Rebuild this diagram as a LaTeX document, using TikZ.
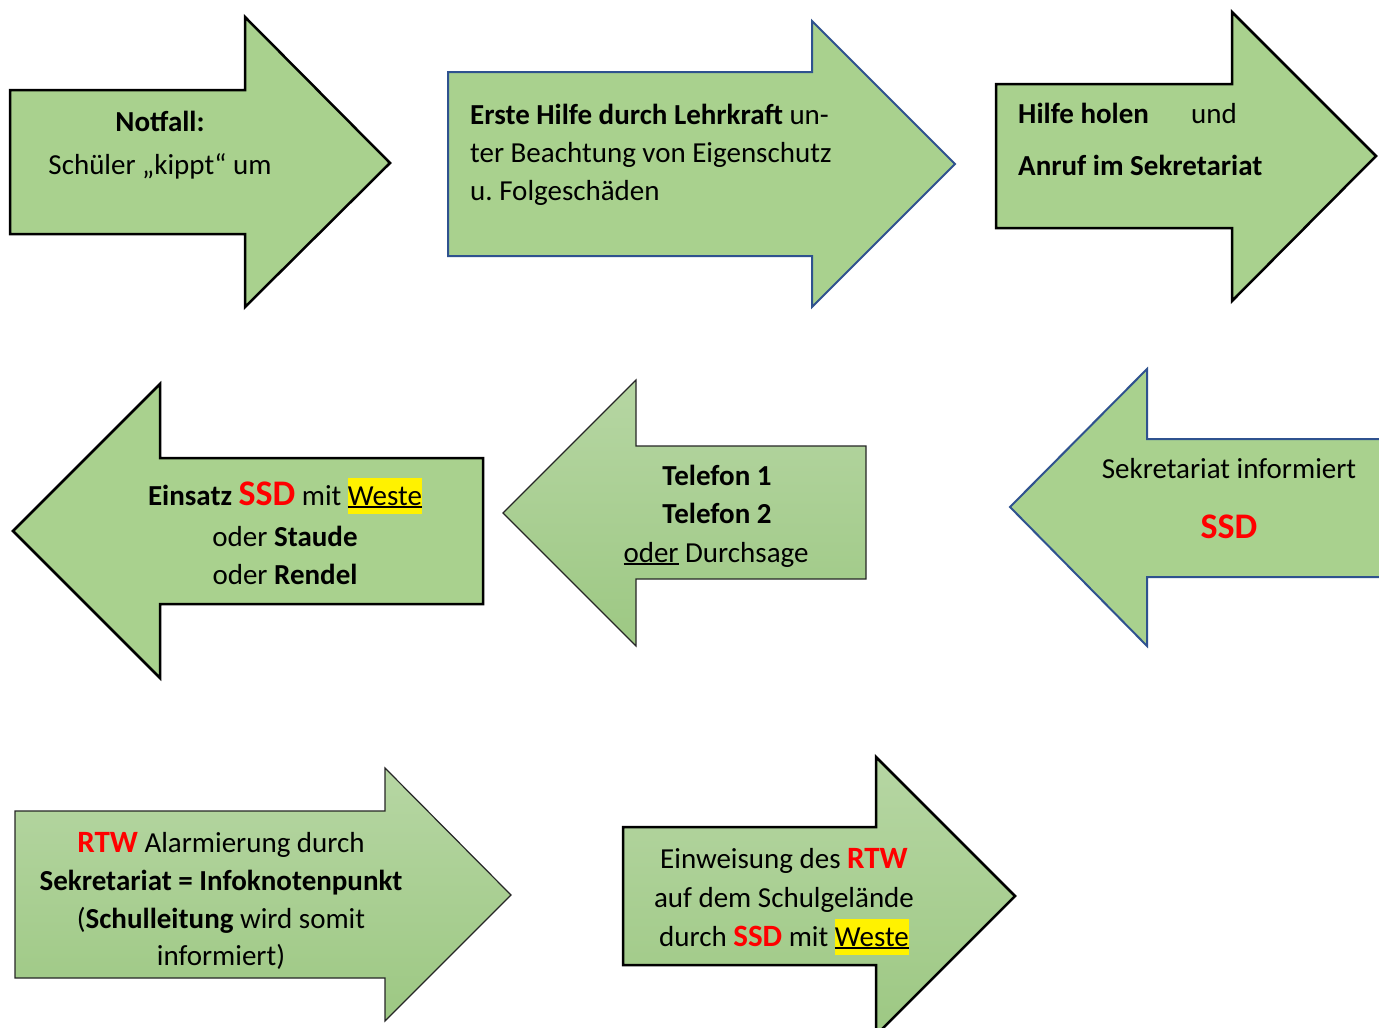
\documentclass[tikz,border=0pt]{standalone}
\usepackage{fontspec}
\setmainfont{Carlito}
\definecolor{agreen}{HTML}{A9D18E}
\definecolor{ablue}{HTML}{2F528F}
\definecolor{gtop}{RGB}{182,214,163}
\definecolor{gbot}{RGB}{157,200,131}
\definecolor{ared}{HTML}{FF0000}
\newcommand\myul[1]{\setbox0=\hbox{#1}\rlap{\rule[-0.11em]{\wd0}{0.07em}}\box0\relax}
\newcommand\myhl[1]{{\setlength{\fboxsep}{0pt}\colorbox{yellow}{\rule[-0.3em]{0pt}{1.22em}\myul{#1}}}}
\newcommand\redbig[1]{{\color{ared}\bfseries\fontsize{36}{36}\selectfont #1}}
\newcommand\redmid[1]{{\color{ared}\bfseries\fontsize{31}{31}\selectfont #1}}
\frenchspacing
\begin{document}
\begin{tikzpicture}[x=1pt,y=-1pt,
  arrowblack/.style={fill=agreen, draw=black, line width=2.5pt, line join=miter},
  arrowblue/.style={fill=agreen, draw=ablue, line width=2pt, line join=miter},
  arrowgrad/.style={top color=gtop, bottom color=gbot, draw=black!85, line width=1.2pt, line join=miter},
  arrowgradbk/.style={top color=gtop, bottom color=gbot, draw=black, line width=2.5pt, line join=miter},
  txt/.style={anchor=base, font=\fontsize{29}{35}\selectfont, text=black, inner sep=0pt},
  txtl/.style={txt, anchor=base west}]
\useasboundingbox (0,0) rectangle (1379,1028);
\clip (0,0) rectangle (1379,1028);
\fill[white] (0,0) rectangle (1379,1028);

% arrows
\path[arrowblack] (10,90) -- (245,90) -- (245,17) -- (390,163) -- (245,307) -- (245,234) -- (10,234) -- cycle;
\path[arrowblue] (448,72) -- (812,72) -- (812,21) -- (955,164) -- (812,307) -- (812,256) -- (448,256) -- cycle;
\path[arrowblack] (996,84) -- (1232,84) -- (1232,12) -- (1376,156) -- (1232,301) -- (1232,228) -- (996,228) -- cycle;
\path[arrowblack] (483,458) -- (160,458) -- (160,384) -- (13,531) -- (160,678) -- (160,604) -- (483,604) -- cycle;
\path[arrowgrad] (866,446) -- (636,446) -- (636,380) -- (503,513) -- (636,646) -- (636,579) -- (866,579) -- cycle;
\path[arrowblue] (1400,439) -- (1147,439) -- (1147,369) -- (1010,507) -- (1147,646) -- (1147,577) -- (1400,577) -- cycle;
\path[arrowgrad] (15,811) -- (385,811) -- (385,768) -- (511,895) -- (385,1021) -- (385,978) -- (15,978) -- cycle;
\path[arrowgradbk] (623,827) -- (876,827) -- (876,757) -- (1015,896) -- (876,1035) -- (876,965) -- (623,965) -- cycle;

% texts
\node[txt] (t1a) at (160,131) {\bfseries Notfall:};
\node[txt] (t1b) at (160,174) {Schüler „kippt“ um};

\node[txtl] (t2a) at (470,124) {\bfseries Erste Hilfe durch Lehrkraft\mdseries{} un-};
\node[txtl] (t2b) at (470,162) {ter Beachtung von Eigenschutz};
\node[txtl] (t2c) at (470,200) {u. Folgeschäden};

\node[txtl] (t3a) at (1018,123) {\bfseries Hilfe holen};
\node[txtl] (t3b) at (1191,123) {und};
\node[txtl] (t3c) at (1018,175) {\bfseries Anruf im Sekretariat};

\node[txt] (t4a) at (285,505) {\textbf{Einsatz} \redbig{SSD} mit \myhl{Weste}};
\node[txt] (t4b) at (285,546) {oder \textbf{Staude}};
\node[txt] (t4c) at (285,584) {oder \textbf{Rendel}};

\node[txt] (t5a) at (717,485) {\bfseries Telefon 1};
\node[txt] (t5b) at (717,523) {\bfseries Telefon 2};
\node[txt] (t5c) at (716,562) {\myul{oder} Durchsage};

\node[txt] (t6a) at (1229,478) {Sekretariat informiert};
\node[txt] (t6b) at (1229,538) {\redbig{SSD}};

\node[txt] (t7a) at (221,852) {\redmid{RTW} Alarmierung durch};
\node[txt] (t7b) at (221,890) {\bfseries Sekretariat = Infoknotenpunkt};
\node[txt] (t7c) at (221,928) {(\textbf{Schulleitung} wird somit};
\node[txt] (t7d) at (221,965) {informiert)};

\node[txt] (t8a) at (784,868) {Einweisung des \redmid{RTW}};
\node[txt] (t8b) at (784,907) {auf dem Schulgelände};
\node[txt] (t8c) at (784,946) {durch \redmid{SSD} mit \myhl{Weste}};
\end{tikzpicture}
\end{document}
